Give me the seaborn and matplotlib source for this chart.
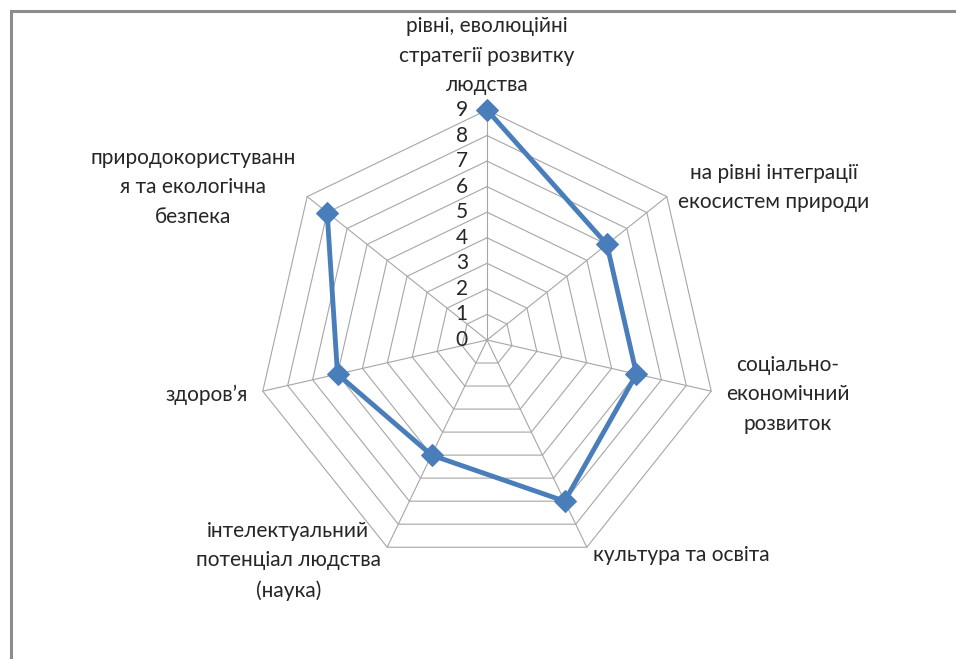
import matplotlib.pyplot as plt
import numpy as np
import pandas as pd
import seaborn as sns

sns.set_style("white")
plt.rcParams["font.family"] = ["Lato", "DejaVu Sans"]

categories = [
    "рівні, еволюційні\nстратегії розвитку\nлюдства",
    "на рівні інтеграції\nекосистем природи",
    "соціально-\nекономічний\nрозвиток",
    "культура та освіта",
    "інтелектуальний\nпотенціал людства\n(наука)",
    "здоров’я",
    "природокористуванн\nя та екологічна\nбезпека",
]
values = [9, 6, 6, 7, 5, 6, 8]
ticks = list(range(0, 10))

n = len(categories)
angles = np.arange(n) * 2 * np.pi / n
ux, uy = np.sin(angles), np.cos(angles)

# figure pixels: 956x659, centre of the web at (487, 340), 25.56 px per unit
W, H, cx, cy, s = 956, 659, 487, 340, 230 / 9
fig = plt.figure(figsize=(W / 100, H / 100), dpi=100)
ax = fig.add_axes([0, 0, 1, 1])

grid_col = "#a6a6a6"
for t in ticks[1:]:
    ax.plot(np.append(ux, ux[0]) * t, np.append(uy, uy[0]) * t,
            color=grid_col, lw=0.8, zorder=1)
for x, y in zip(ux, uy):
    ax.plot([0, x * ticks[-1]], [0, y * ticks[-1]], color=grid_col, lw=0.8, zorder=1)

for t in ticks:
    ax.text(-0.75, t, str(t), ha="right", va="center", fontsize=15, color="#262626")

df = pd.DataFrame({
    "x": np.append(ux * values, ux[0] * values[0]),
    "y": np.append(uy * values, uy[0] * values[0]),
})
sns.lineplot(data=df, x="x", y="y", sort=False, color="#4a7ebb", lw=3.5,
             marker="D", markersize=11, markeredgecolor="#4a7ebb", ax=ax, zorder=3)
ax.set_xlim(-cx / s, (W - cx) / s)
ax.set_ylim(-(H - cy) / s, cy / s)
ax.axis("off")

R = 9.58
has = ["center", "left", "left", "left", "right", "right", "right"]
vas = ["bottom", "center", "center", "baseline", "center", "center", "center"]
for lab, x, y, ha, va in zip(categories, ux, uy, has, vas):
    ax.text(x * R, y * R, lab, ha=ha, va=va, multialignment="center",
            fontsize=15, linespacing=1.6, color="#262626")

fig.patches.append(plt.Rectangle((11 / W, -0.1), 1.2, (H - 11) / H + 0.1,
                                 transform=fig.transFigure, fill=False,
                                 edgecolor="#8c8c8c", lw=2.2))

fig.savefig("out.png", dpi=100, facecolor="white")
